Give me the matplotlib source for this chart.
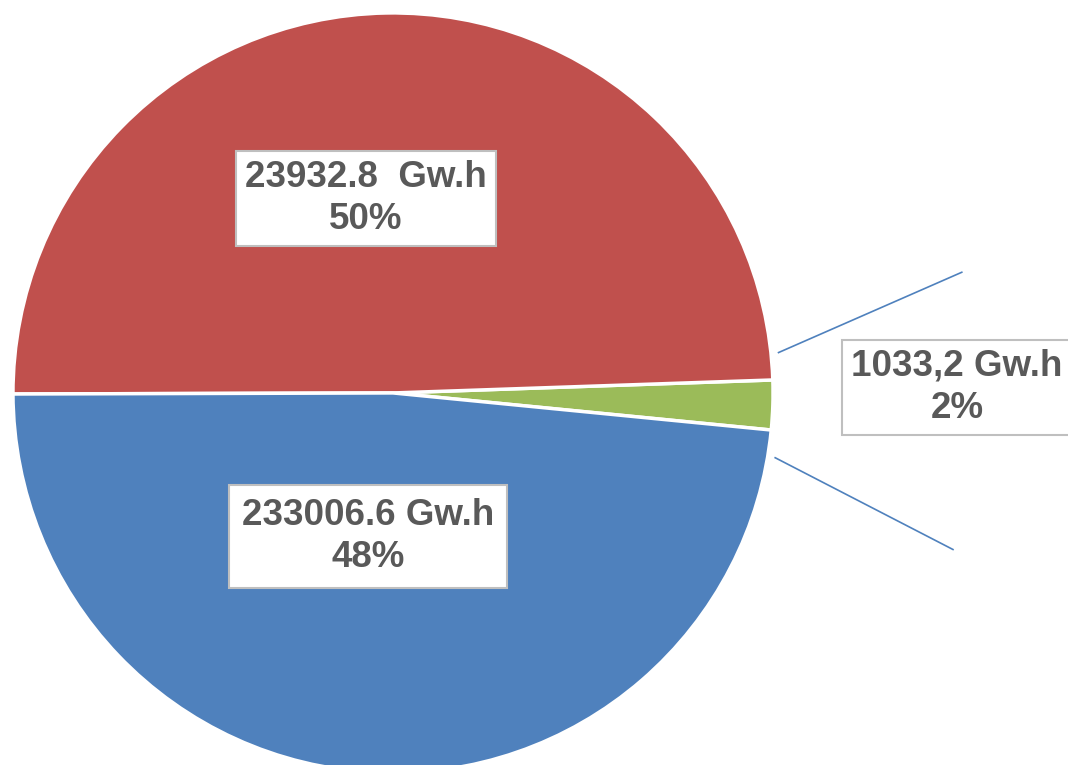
import numpy as np
import matplotlib.pyplot as plt

# shares (percent)
names = ["green", "red", "blue"]
shares = [2.1, 49.5, 48.4]
energy_labels = ["1033,2 Gw.h", "23932.8  Gw.h", "233006.6 Gw.h"]
pct_labels = ["2%", "50%", "48%"]
colors = ["#9BBB59", "#C0504D", "#4F81BD"]

plt.rcParams['font.family'] = ['Liberation Sans', 'DejaVu Sans']

fig = plt.figure(figsize=(10.68, 7.65), dpi=100)
ax = fig.add_axes([0, 0, 1, 1])

start = -5.6
wedges, _ = ax.pie(shares, colors=colors, startangle=start, counterclock=True,
                   radius=1.0, wedgeprops=dict(edgecolor="white", linewidth=2.5))

ax.set_xlim(-1.034, 1.776)
ax.set_ylim(-0.979, 1.034)
ax.set_aspect("equal")
ax.axis("off")

# leader lines around the small slice
mid = np.deg2rad(start + shares[0] / 100 * 360 / 2)
for sgn in (1, -1):
    a0 = mid + sgn * np.deg2rad(7.8)
    a1 = mid + sgn * np.deg2rad(13.8)
    ax.plot([1.02 * np.cos(a0), 1.53 * np.cos(a1)],
            [1.02 * np.sin(a0), 1.53 * np.sin(a1)],
            color="#4F81BD", lw=1.2)

txt_kw = dict(ha="center", va="center", fontsize=26.5, fontweight="bold",
              color="#595959", linespacing=1.25)

pos = [(1.484, 0.015), (-0.071, 0.512), (-0.066, -0.378)]
pads = [0.25, 0.25, 0.35]
for (x, y), e, p, pd in zip(pos, energy_labels, pct_labels, pads):
    box = dict(boxstyle="square,pad=%.2f" % pd, facecolor="white",
               edgecolor="#BFBFBF", linewidth=1.5)
    ax.text(x, y, e + "\n" + p, bbox=box, **txt_kw)

fig.savefig("out.png", dpi=100)
